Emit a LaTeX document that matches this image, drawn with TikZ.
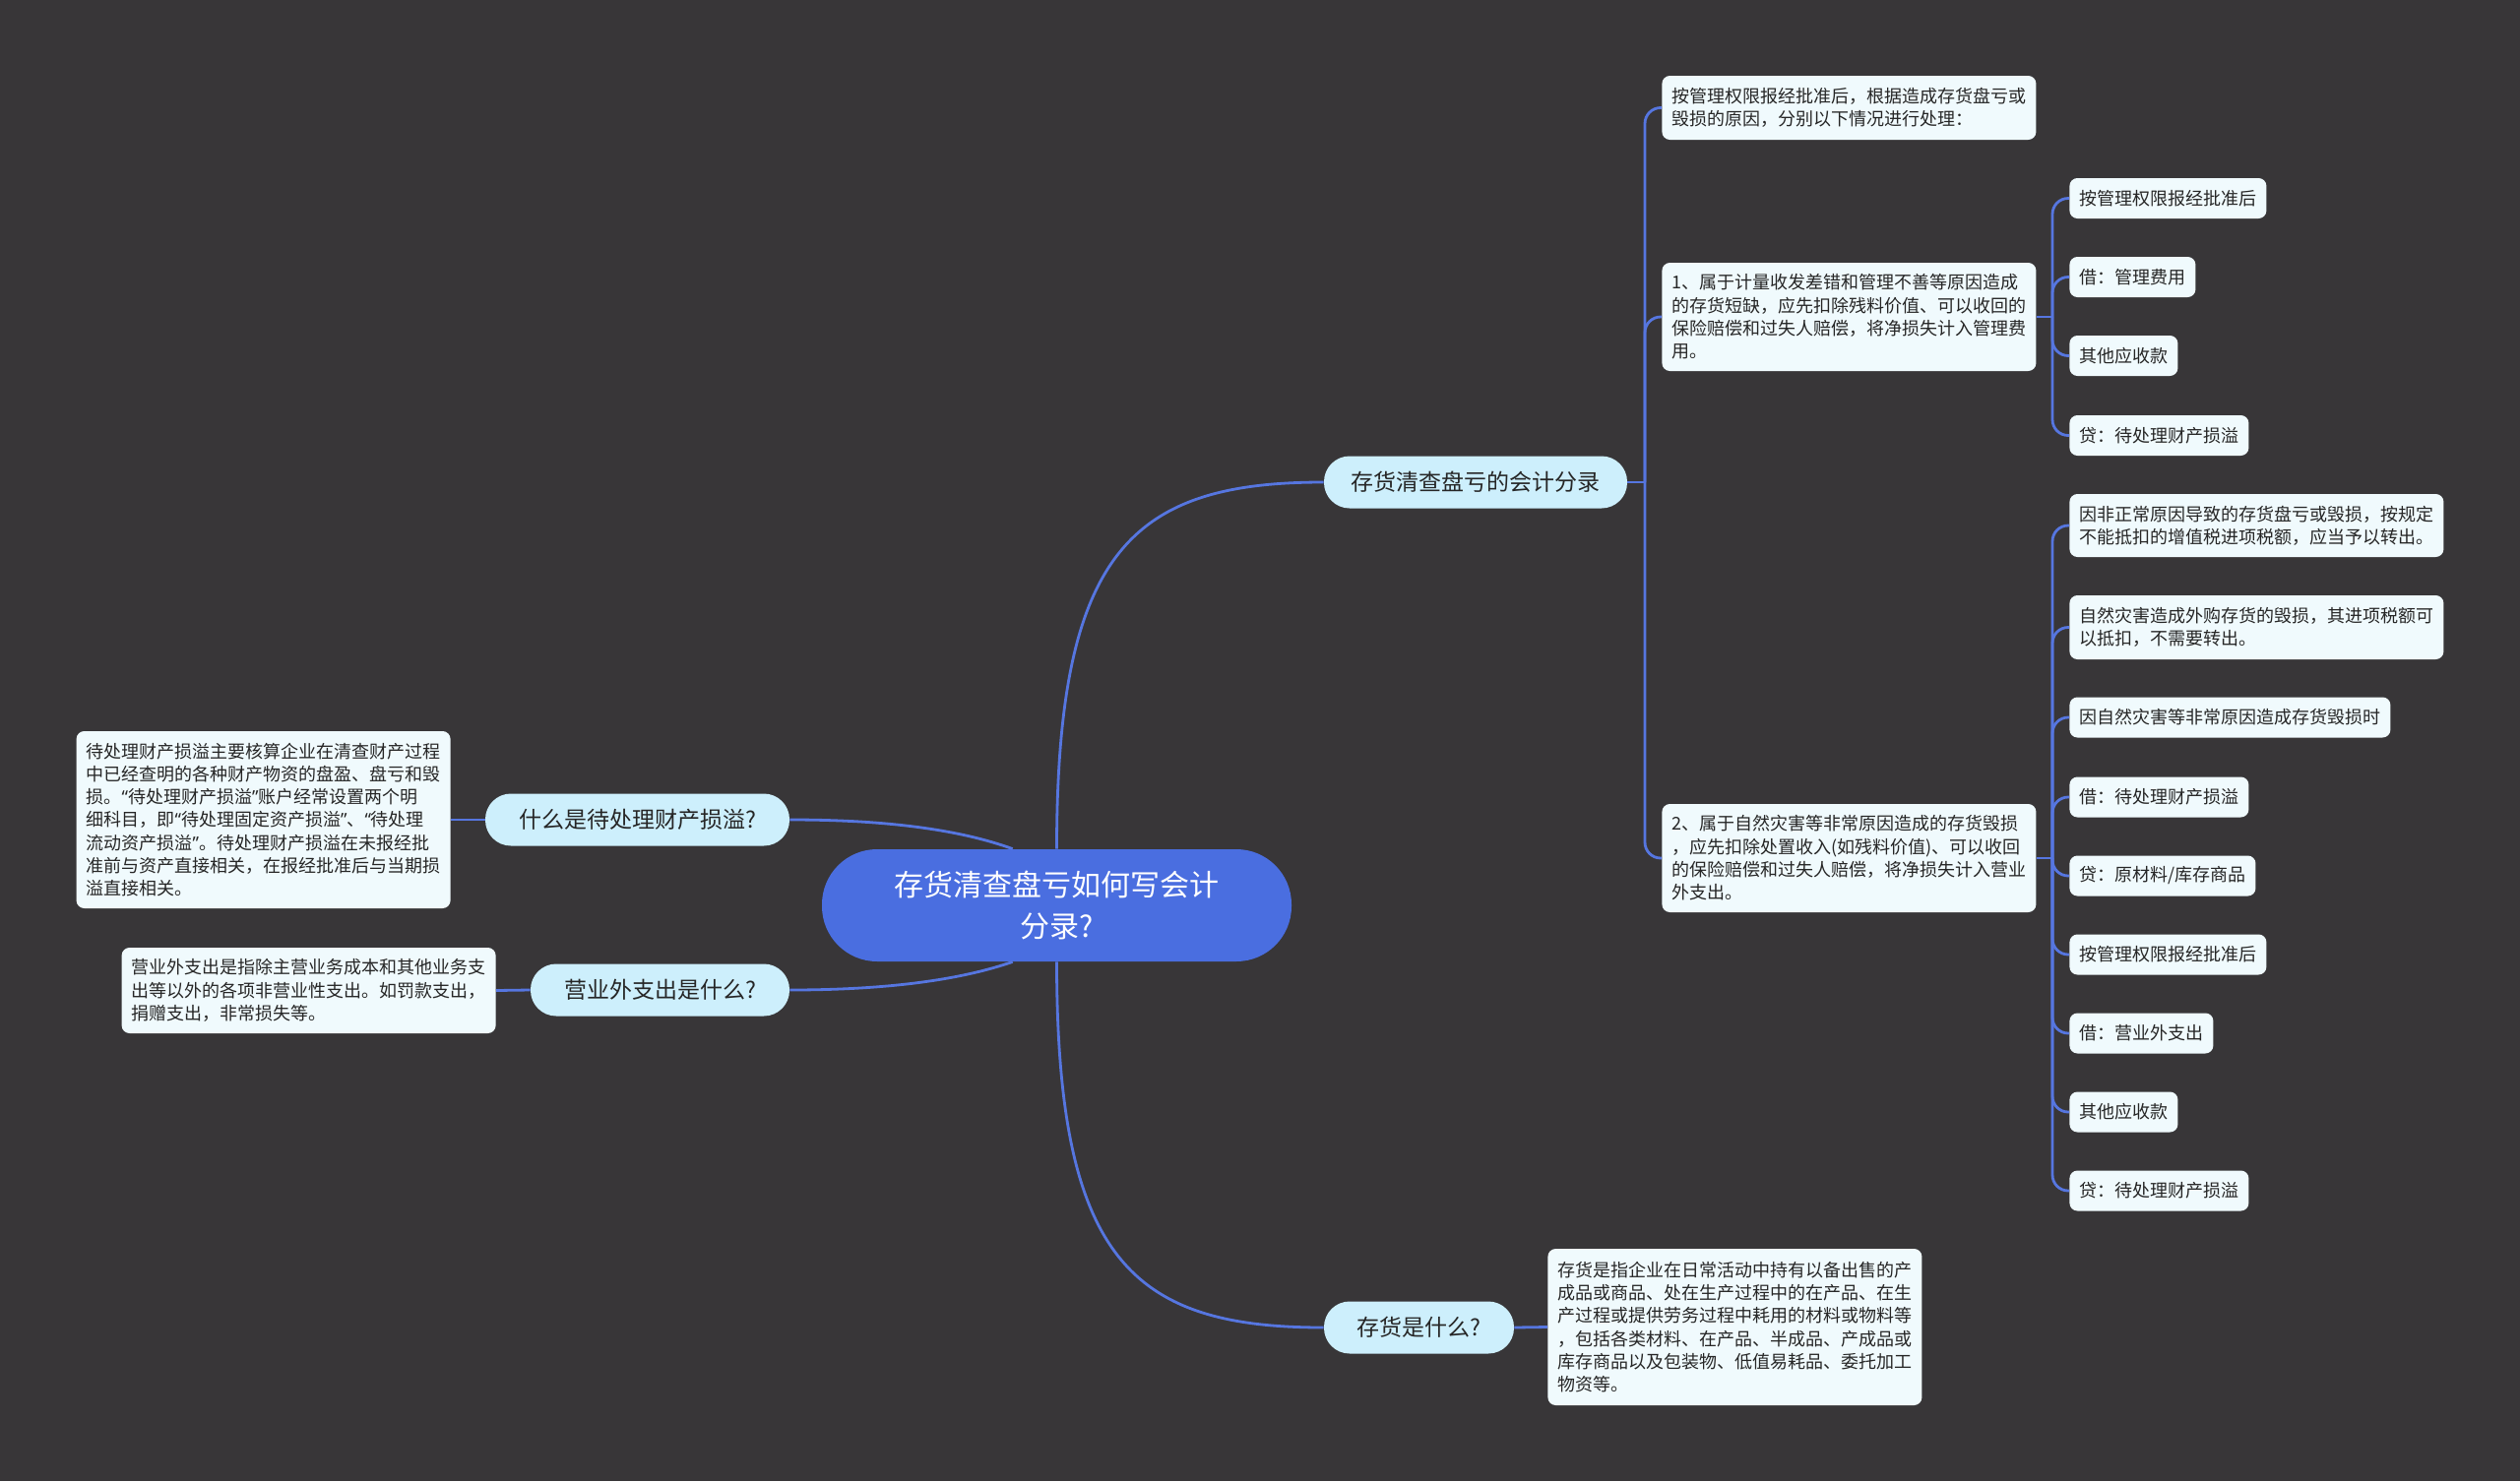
\documentclass[tikz,border=0pt]{standalone}
\usepackage{fontspec}
\setmainfont{Noto Sans CJK SC}
\newfontfamily\latinq{Noto Sans}
\newcommand{\oqt}{{\latinq “}}
\newcommand{\cqt}{{\latinq ”}}
\usetikzlibrary{calc}
\definecolor{bg}{HTML}{383638}
\definecolor{cblue}{HTML}{4A6EE0}
\definecolor{lblue}{HTML}{CDEFFC}
\definecolor{leaff}{HTML}{F0FAFD}
\definecolor{lnk}{HTML}{5676E0}
\definecolor{txt}{HTML}{262626}
\begin{document}
\begin{tikzpicture}[x=0.5pt,y=-0.5pt,
 link/.style={draw=lnk, line width=1.4pt},
 root/.style={fill=cblue, text=white, rounded corners=28pt, minimum width=238.5pt, minimum height=57pt, align=center, font=\fontsize{15pt}{21pt}\selectfont, inner sep=0pt},
 branch/.style={fill=lblue, text=txt, rounded corners=13pt, minimum height=26.5pt, inner sep=0pt, font=\fontsize{11.5pt}{14pt}\selectfont},
 leaf/.style={fill=leaff, text=txt, rounded corners=4pt, inner xsep=5pt, inner ysep=0pt, align=left, font=\fontsize{9pt}{11.65pt}\selectfont, minimum height=20.5pt},
 ]
\fill[bg] (0,0) rectangle (2560,1505);
\useasboundingbox (0,0) rectangle (2560,1505);

% root
\node[root] (C) at (1073.5,920) {存货清查盘亏如何写会计\\分录?};

% branches
\node[branch, minimum width=154pt] (B1) at (1499,490) {存货清查盘亏的会计分录};
\node[branch, minimum width=154.5pt] (B2) at (647.5,833) {什么是待处理财产损溢?};
\node[branch, minimum width=131.5pt] (B3) at (670.5,1006) {营业外支出是什么?};
\node[branch, minimum width=96.5pt] (B4) at (1441.5,1349) {存货是什么?};

% leaves of B1
\node[leaf, anchor=west, minimum height=32.5pt] (L0) at (1688,109.5) {按管理权限报经批准后，根据造成存货盘亏或\\毁损的原因，分别以下情况进行处理：};
\node[leaf, anchor=west, minimum height=55pt] (L1) at (1688,322) {1、属于计量收发差错和管理不善等原因造成\\的存货短缺，应先扣除残料价值、可以收回的\\保险赔偿和过失人赔偿，将净损失计入管理费\\用。};
\node[leaf, anchor=west, minimum height=55pt] (L2) at (1688,872) {2、属于自然灾害等非常原因造成的存货毁损\\，应先扣除处置收入(如残料价值)、可以收回\\的保险赔偿和过失人赔偿，将净损失计入营业\\外支出。};

% leaves of L1
\node[leaf, anchor=west] (R1) at (2102,201.5) {按管理权限报经批准后};
\node[leaf, anchor=west] (R2) at (2102,281.5) {借：管理费用};
\node[leaf, anchor=west] (R3) at (2102,361.5) {其他应收款};
\node[leaf, anchor=west] (R4) at (2102,442.5) {贷：待处理财产损溢};

% leaves of L2
\node[leaf, anchor=west, minimum height=32pt] (R5) at (2102,534) {因非正常原因导致的存货盘亏或毁损，按规定\\不能抵扣的增值税进项税额，应当予以转出。};
\node[leaf, anchor=west, minimum height=32.5pt] (R6) at (2102,637.5) {自然灾害造成外购存货的毁损，其进项税额可\\以抵扣，不需要转出。};
\node[leaf, anchor=west] (R7) at (2102,729) {因自然灾害等非常原因造成存货毁损时};
\node[leaf, anchor=west] (R8) at (2102,810) {借：待处理财产损溢};
\node[leaf, anchor=west] (R9) at (2102,890) {贷：原材料/库存商品};
\node[leaf, anchor=west] (R10) at (2102,970) {按管理权限报经批准后};
\node[leaf, anchor=west] (R11) at (2102,1050) {借：营业外支出};
\node[leaf, anchor=west] (R12) at (2102,1130) {其他应收款};
\node[leaf, anchor=west] (R13) at (2102,1210) {贷：待处理财产损溢};

% left leaves
\node[leaf, anchor=east, minimum height=90pt] (LA) at (458,833) {待处理财产损溢主要核算企业在清查财产过程\\中已经查明的各种财产物资的盘盈、盘亏和毁\\损。\oqt 待处理财产损溢\cqt 账户经常设置两个明\\细科目，即\oqt 待处理固定资产损溢\cqt 、\oqt 待处理\\流动资产损溢\cqt 。待处理财产损溢在未报经批\\准前与资产直接相关，在报经批准后与当期损\\溢直接相关。};
\node[leaf, anchor=east, minimum height=43.5pt] (LB) at (504,1006.5) {营业外支出是指除主营业务成本和其他业务支\\出等以外的各项非营业性支出。如罚款支出，\\捐赠支出，非常损失等。};
\node[leaf, anchor=west, minimum height=79.5pt] (LC) at (1572,1348.5) {存货是指企业在日常活动中持有以备出售的产\\成品或商品、处在生产过程中的在产品、在生\\产过程或提供劳务过程中耗用的材料或物料等\\，包括各类材料、在产品、半成品、产成品或\\库存商品以及包装物、低值易耗品、委托加工\\物资等。};

% root connectors
\draw[link] (C.north) .. controls (1073.5,560) and (1150,490) .. (B1.west);
\draw[link] (C.south) .. controls (1073.5,1280) and (1150,1349) .. (B4.west);
\draw[link] (B2.east) .. controls (900,833) and (975,843) .. (C.128);
\draw[link] (B3.east) .. controls (900,1006) and (975,996) .. (C.232);

% left/bottom leaves
\draw[link] (B2.west) -- (LA.east);
\draw[link] (B3.west) -- (LB.east);
\draw[link] (B4.east) -- (LC.west);

% trunk of B1
\coordinate (T1) at (1671,490);
\draw[link] (B1.east) -- (T1);
\foreach \n in {L0,L1,L2} \draw[link, rounded corners=8pt] (T1) |- (\n.west);

% trunk of L1
\coordinate (T2) at (2085,322);
\draw[link] (L1.east) -- (T2);
\foreach \n in {R1,R2,R3,R4} \draw[link, rounded corners=8pt] (T2) |- (\n.west);

% trunk of L2
\coordinate (T3) at (2085,872);
\draw[link] (L2.east) -- (T3);
\foreach \n in {R5,R6,R7,R8,R9,R10,R11,R12,R13} \draw[link, rounded corners=8pt] (T3) |- (\n.west);
\end{tikzpicture}
\end{document}
